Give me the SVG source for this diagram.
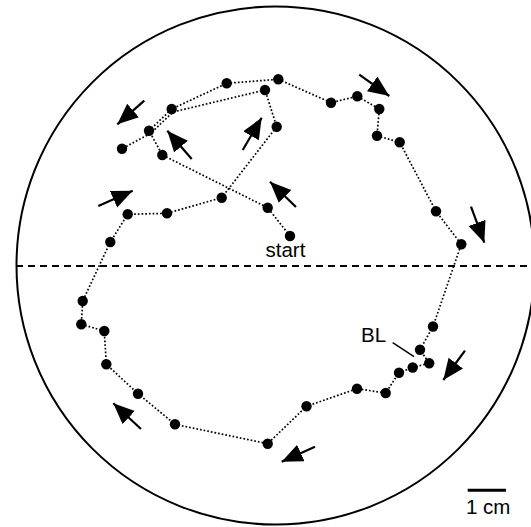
<svg xmlns="http://www.w3.org/2000/svg" width="531" height="527" viewBox="0 0 531 527">
<style>
.track{fill:none;stroke:#000;stroke-width:1.7;stroke-dasharray:1.7 2}
.dot{fill:#000}
.arr{stroke:#000;stroke-width:2.2;fill:none;marker-end:url(#head)}
.lbl{font-family:"Liberation Sans",Arial,sans-serif;font-size:20.5px;fill:#000}
</style>
<defs>
<marker id="head" markerUnits="userSpaceOnUse" markerWidth="22" markerHeight="19" refX="21" refY="9" orient="auto">
<path d="M0,0 L21,9 L0,18 Z" fill="#000"/>
</marker>
</defs>
<g id="arena">
<circle cx="275.5" cy="265.5" r="259" fill="none" stroke="#000" stroke-width="2"/>
<line x1="16" y1="266" x2="531" y2="266" stroke="#000" stroke-width="1.8" stroke-dasharray="7 5"/>
</g>
<g id="connectors">
<polyline class="track" points="290,236 267.7,207.7 162.3,155 149,130.7 171.7,109 226.7,83.3 278.3,79.3 331,102.7 357.3,96.3 379.3,109 377,135.7 399.7,142.3 436,211.3 461.3,244.3 433,326.5 420,349.7 429.2,363.2 412.7,367.5 399,372.7 385.7,393 357,388.7 306.5,406.3 267.7,443.7 175,424.3 138,393.7 106.3,364.3 104.3,331 81.3,324.3 82.7,301 110.3,242 127.7,214.3 167,213.3 221.7,197.7 276.7,126.7 265,90"/>
<polyline class="track" points="265,90 173,112 150.5,133.5 122,148.7"/>
</g>
<g id="points">
<circle class="dot" cx="290" cy="236" r="5.2"/>
<circle class="dot" cx="267.7" cy="207.7" r="5.2"/>
<circle class="dot" cx="162.3" cy="155" r="5.2"/>
<circle class="dot" cx="149" cy="130.7" r="5.2"/>
<circle class="dot" cx="171.7" cy="109" r="5.2"/>
<circle class="dot" cx="226.7" cy="83.3" r="5.2"/>
<circle class="dot" cx="278.3" cy="79.3" r="5.2"/>
<circle class="dot" cx="331" cy="102.7" r="5.2"/>
<circle class="dot" cx="357.3" cy="96.3" r="5.2"/>
<circle class="dot" cx="379.3" cy="109" r="5.2"/>
<circle class="dot" cx="377" cy="135.7" r="5.2"/>
<circle class="dot" cx="399.7" cy="142.3" r="5.2"/>
<circle class="dot" cx="436" cy="211.3" r="5.2"/>
<circle class="dot" cx="461.3" cy="244.3" r="5.2"/>
<circle class="dot" cx="433" cy="326.5" r="5.2"/>
<circle class="dot" cx="420" cy="349.7" r="5.2"/>
<circle class="dot" cx="429.2" cy="363.2" r="5.2"/>
<circle class="dot" cx="412.7" cy="367.5" r="5.2"/>
<circle class="dot" cx="399" cy="372.7" r="5.2"/>
<circle class="dot" cx="385.7" cy="393" r="5.2"/>
<circle class="dot" cx="357" cy="388.7" r="5.2"/>
<circle class="dot" cx="306.5" cy="406.3" r="5.2"/>
<circle class="dot" cx="267.7" cy="443.7" r="5.2"/>
<circle class="dot" cx="175" cy="424.3" r="5.2"/>
<circle class="dot" cx="138" cy="393.7" r="5.2"/>
<circle class="dot" cx="106.3" cy="364.3" r="5.2"/>
<circle class="dot" cx="104.3" cy="331" r="5.2"/>
<circle class="dot" cx="81.3" cy="324.3" r="5.2"/>
<circle class="dot" cx="82.7" cy="301" r="5.2"/>
<circle class="dot" cx="110.3" cy="242" r="5.2"/>
<circle class="dot" cx="127.7" cy="214.3" r="5.2"/>
<circle class="dot" cx="167" cy="213.3" r="5.2"/>
<circle class="dot" cx="221.7" cy="197.7" r="5.2"/>
<circle class="dot" cx="276.7" cy="126.7" r="5.2"/>
<circle class="dot" cx="265" cy="90" r="5.2"/>
<circle class="dot" cx="122" cy="148.7" r="5.2"/>
</g>
<g id="arrows">
<line class="arr" x1="144.3" y1="100.7" x2="117.3" y2="124.3"/>
<line class="arr" x1="191.7" y1="159" x2="167.3" y2="130.7"/>
<line class="arr" x1="242.7" y1="150" x2="261.7" y2="117.7"/>
<line class="arr" x1="296" y1="207" x2="270" y2="181.7"/>
<line class="arr" x1="98.3" y1="206" x2="132.7" y2="190.7"/>
<line class="arr" x1="359.3" y1="74.7" x2="389.3" y2="96"/>
<line class="arr" x1="471" y1="206.7" x2="484.3" y2="242.7"/>
<line class="arr" x1="465" y1="350.7" x2="443.3" y2="380"/>
<line class="arr" x1="315" y1="446.7" x2="281.7" y2="461.7"/>
<line class="arr" x1="141" y1="429" x2="113.3" y2="403.3"/>
</g>
<g id="labels">
<text class="lbl" x="265.5" y="256.5">start</text>
<text class="lbl" x="361" y="341.7">BL</text>
<line x1="392.7" y1="342.7" x2="414" y2="356.7" stroke="#000" stroke-width="1.5"/>
</g>
<g id="scalebar">
<line x1="467.7" y1="490.3" x2="506" y2="490.3" stroke="#000" stroke-width="3"/>
<text class="lbl" x="466" y="514">1 cm</text>
</g>
</svg>
